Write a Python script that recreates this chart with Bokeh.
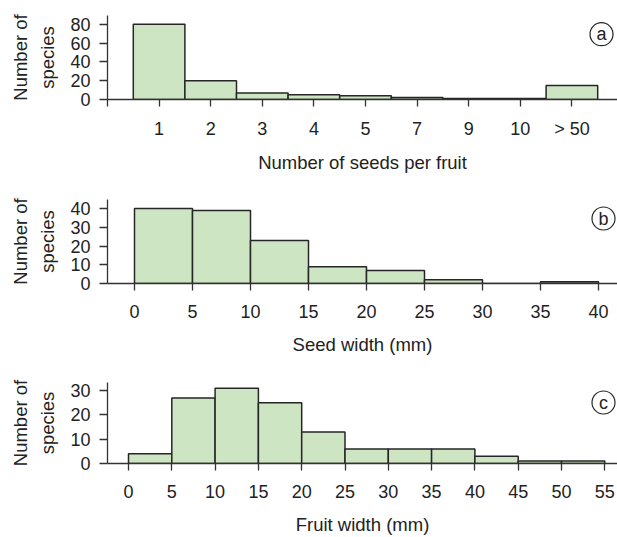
from bokeh.plotting import figure
from bokeh.layouts import column
from bokeh.models import FixedTicker, Range1d
from bokeh.core.properties import value
from bokeh.embed import file_html
from bokeh.resources import INLINE

# ---------------- data ----------------
seed_labels = ["1", "2", "3", "4", "5", "7", "9", "10", "> 50"]
seed_counts = [80, 20, 7, 5, 4, 2, 1, 1, 15]

seedw_edges = [0, 5, 10, 15, 20, 25, 30, 35, 40]
seedw_counts = [40, 39, 23, 9, 7, 2, 0, 1]

fruitw_edges = [0, 5, 10, 15, 20, 25, 30, 35, 40, 45, 50, 55]
fruitw_counts = [4, 27, 31, 25, 13, 6, 6, 6, 3, 1, 1]

panel_letters = ["a", "b", "c"]

# ---------------- style ----------------
FONT = "Liberation Sans"
FILL = "#cde5c2"
EDGE = "#262626"
AX = "#333333"
TXT = "#222222"
W = 617
LEFT = 107


def make_fig(height, top, bottom, xr, yr, xticks, yticks, xlabel, lab_so, title_so):
    p = figure(width=W, height=height, output_backend="svg", toolbar_location=None,
               x_range=Range1d(*xr), y_range=Range1d(*yr),
               min_border_left=LEFT, min_border_right=0,
               min_border_top=top, min_border_bottom=bottom)
    p.outline_line_color = None
    p.xgrid.visible = False
    p.ygrid.visible = False
    p.background_fill_color = "white"
    p.border_fill_color = "white"
    p.xaxis.ticker = FixedTicker(ticks=xticks)
    p.yaxis.ticker = FixedTicker(ticks=yticks)
    for ax in (p.xaxis, p.yaxis):
        ax.axis_line_color = AX
        ax.axis_line_width = 1.3
        ax.major_tick_line_color = AX
        ax.major_tick_line_width = 1.3
        ax.minor_tick_line_color = None
        ax.major_tick_in = 0
        ax.major_label_text_font = FONT
        ax.major_label_text_font_size = "18px"
        ax.major_label_text_color = TXT
        ax.axis_label_text_font = FONT
        ax.axis_label_text_font_size = "18.5px"
        ax.axis_label_text_font_style = "normal"
        ax.axis_label_text_color = TXT
    p.xaxis.major_tick_out = 7
    p.yaxis.major_tick_out = 8
    p.xaxis.major_label_standoff = lab_so
    p.yaxis.major_label_standoff = 9
    p.xaxis.axis_label = xlabel
    p.xaxis.axis_label_standoff = title_so
    p.yaxis.axis_label = "Number of\nspecies"
    p.yaxis.axis_label_standoff = 9
    p.yaxis.axis_label_text_line_height = 1.3
    return p


def px2data(px_off, r0, r1, npx):
    return r0 + (r1 - r0) * px_off / npx


def add_letter(p, letter, xr, yr, fw, fh, dx, dy):
    # dx, dy: offsets in px from frame's left / bottom
    cx = px2data(dx, xr[0], xr[1], fw)
    cy = px2data(dy, yr[0], yr[1], fh)
    p.scatter([cx], [cy], marker="circle", size=23, fill_color="white",
              line_color=EDGE, line_width=1.2)
    p.text([cx], [cy], text=[letter], text_align="center", text_baseline="middle",
           text_font=value(FONT), text_font_size="18px", text_color=TXT)


FW = W - LEFT

# ---------- panel a ----------
ha, ta, ba = 185, 15, 86
fha = ha - ta - ba
xa = (-1, -1 + FW / 51.6)
ya = (0, fha / 0.941)
xi = list(range(len(seed_labels)))
fa = make_fig(ha, ta, ba, xa, ya, [-1] + xi, [0, 20, 40, 60, 80],
              "Number of seeds per fruit", 12, 10)
fa.quad(left=[i - 0.5 for i in xi], right=[i + 0.5 for i in xi], bottom=0, top=seed_counts,
        fill_color=FILL, line_color=EDGE, line_width=1.5)
overrides = {-1: ""}
for i, lab in zip(xi, seed_labels):
    overrides[i] = lab
fa.xaxis.major_label_overrides = overrides
add_letter(fa, panel_letters[0], xa, ya, FW, fha, 601 - 107, 99.3 - 34)

# ---------- panel b ----------
hb, tb, bb = 180, 14, 82
fhb = hb - tb - bb
pxb = 11.6
xb = ((107 - 134) / pxb, (107 - 134) / pxb + FW / pxb)
yb = (0, fhb / 1.875)
fb = make_fig(hb, tb, bb, xb, yb, seedw_edges, [0, 10, 20, 30, 40],
              "Seed width (mm)", 14, 13)
fb.quad(left=seedw_edges[:-1], right=seedw_edges[1:], bottom=0, top=seedw_counts,
        fill_color=FILL, line_color=EDGE, line_width=1.5)
add_letter(fb, panel_letters[1], xb, yb, FW, fhb, 603 - 107, 283 - 218)

# ---------- panel c ----------
hc, tc, bc = 172, 17, 74
fhc = hc - tc - bc
pxc = 8.66
xc = ((107 - 128) / pxc, (107 - 128) / pxc + FW / pxc)
yc = (0, fhc / 2.43)
fc = make_fig(hc, tc, bc, xc, yc, fruitw_edges, [0, 10, 20, 30],
              "Fruit width (mm)", 14, 13)
fc.quad(left=fruitw_edges[:-1], right=fruitw_edges[1:], bottom=0, top=fruitw_counts,
        fill_color=FILL, line_color=EDGE, line_width=1.5)
add_letter(fc, panel_letters[2], xc, yc, FW, fhc, 603 - 107, 463 - 402)

layout = column(fa, fb, fc, spacing=0)
open("out.html", "w").write(file_html(layout, INLINE))
